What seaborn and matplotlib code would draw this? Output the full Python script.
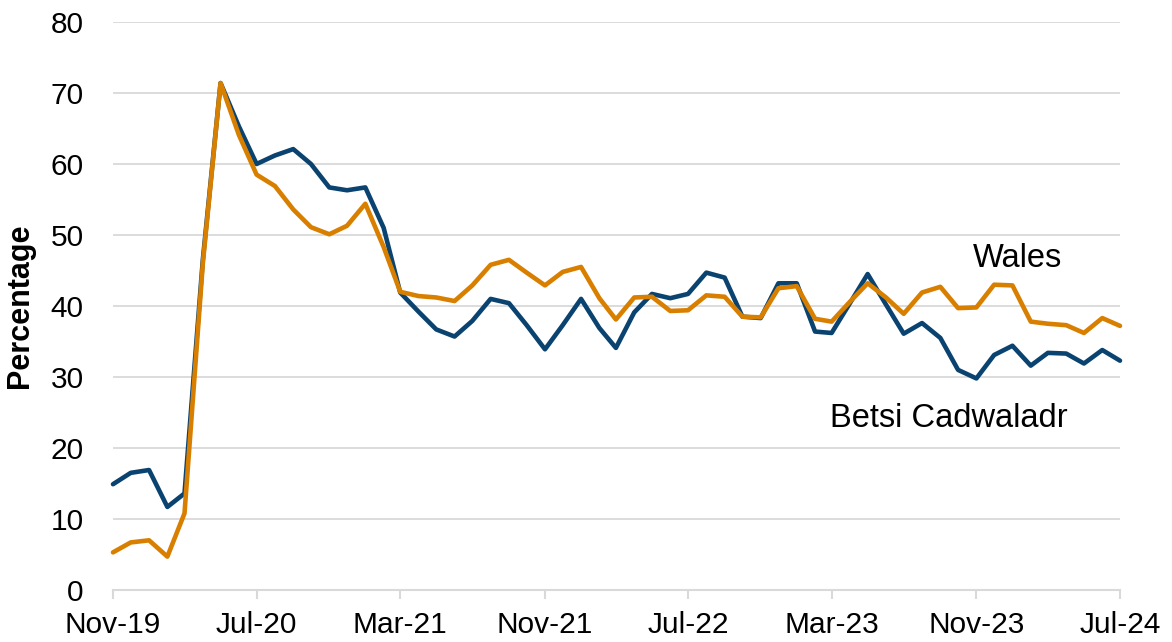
import matplotlib
matplotlib.use("Agg")
import matplotlib.pyplot as plt
import seaborn as sns
import pandas as pd

# monthly percentages, Nov-19 .. Jul-24
months = pd.date_range("2019-11-01", periods=57, freq="MS")

betsi = [14.9, 16.5, 16.9, 11.7, 13.6, 46.5, 71.4, 65.3, 60.0, 61.2,
         62.1, 60.0, 56.7, 56.3, 56.7, 51.0, 41.9, 39.2, 36.7, 35.7,
         37.9, 41.0, 40.4, 37.3, 33.9, 37.3, 41.0, 36.9, 34.1, 39.1,
         41.7, 41.1, 41.7, 44.7, 44.0, 38.5, 38.3, 43.2, 43.2, 36.4,
         36.2, 40.4, 44.5, 40.2, 36.1, 37.6, 35.5, 31.0, 29.8, 33.1,
         34.4, 31.6, 33.4, 33.3, 31.9, 33.8, 32.3]

wales = [5.3, 6.7, 7.0, 4.7, 10.8, 46.0, 71.4, 64.1, 58.5, 56.9,
         53.6, 51.1, 50.1, 51.3, 54.4, 48.3, 42.0, 41.4, 41.2, 40.7,
         42.9, 45.8, 46.5, 44.7, 42.9, 44.8, 45.5, 41.1, 38.1, 41.2,
         41.3, 39.3, 39.4, 41.5, 41.3, 38.5, 38.4, 42.5, 42.8, 38.2,
         37.8, 40.6, 43.2, 41.2, 38.9, 41.9, 42.7, 39.7, 39.8, 43.0,
         42.9, 37.8, 37.5, 37.3, 36.2, 38.3, 37.2]

series_names = ["Betsi Cadwaladr", "Wales"]
colors = {"Betsi Cadwaladr": "#0b4370", "Wales": "#d97f00"}

df = pd.concat([
    pd.DataFrame({"month": months, "pct": betsi, "area": "Betsi Cadwaladr"}),
    pd.DataFrame({"month": months, "pct": wales, "area": "Wales"}),
])

sns.set_theme(style="white")
plt.rcParams["font.family"] = ["Liberation Sans", "DejaVu Sans"]
plt.rcParams["text.color"] = "black"
plt.rcParams["xtick.color"] = "black"
plt.rcParams["ytick.color"] = "black"
plt.rcParams["axes.labelcolor"] = "black"

fig = plt.figure(figsize=(11.72, 6.42), dpi=100)
ax = fig.add_axes([113 / 1172, 1 - 590 / 642, 1007 / 1172, 568 / 642])

sns.lineplot(data=df, x="month", y="pct", hue="area", hue_order=series_names,
             palette=colors, linewidth=3.3, legend=False, ax=ax, clip_on=False)

ax.set_ylim(0, 80)
ax.set_yticks(range(0, 81, 10))
ax.set_xlim(months[0], months[-1])
tick_dates = months[::8]
ax.set_xticks(tick_dates)
ax.set_xticklabels([d.strftime("%b-%y") for d in tick_dates])

for y in range(10, 81, 10):
    ax.axhline(y, color="#d9d9d9", linewidth=1.3, zorder=0)

for s in ["top", "right", "left"]:
    ax.spines[s].set_visible(False)
ax.spines["bottom"].set_color("#d9d9d9")
ax.spines["bottom"].set_linewidth(1.5)

ax.tick_params(axis="x", direction="out", length=6.5, width=1.5, color="#d9d9d9",
               labelcolor="black", labelsize=21.5, pad=8.5, bottom=True)
ax.tick_params(axis="y", length=0, labelsize=21.5, pad=21, labelcolor="black")

ax.set_xlabel("")
ax.set_ylabel("Percentage", fontsize=22, fontweight="bold")
ax.yaxis.set_label_coords(-0.077, 0.5)

ax.text(months[50] + pd.Timedelta(days=9), 45.5, "Wales", fontsize=23.5,
        ha="center", va="baseline")
ax.text(months[46] + pd.Timedelta(days=15), 23.0, "Betsi Cadwaladr", fontsize=23.5,
        ha="center", va="baseline")

fig.savefig("out.png", dpi=100)
